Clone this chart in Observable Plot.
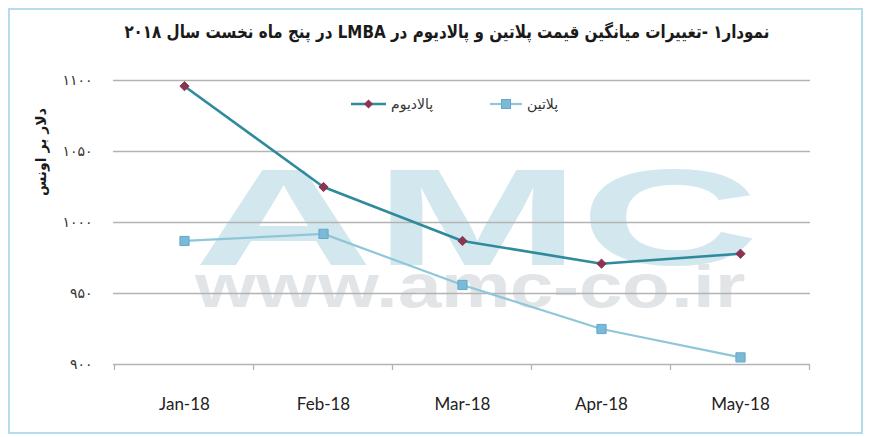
<!DOCTYPE html>
<html>
<head>
<meta charset="utf-8">
<script src="https://cdn.jsdelivr.net/npm/d3@7"></script>
<script src="https://cdn.jsdelivr.net/npm/@observablehq/plot@0.6"></script>
<style>
  @font-face { font-family: "WMBig"; src: local("Liberation Sans Bold"), local("LiberationSans-Bold"); font-weight: bold; ascent-override: 73%; descent-override: 0%; line-gap-override: 0%; }
  @font-face { font-family: "WMSmall"; src: local("Liberation Sans Bold"), local("LiberationSans-Bold"); font-weight: bold; ascent-override: 65%; descent-override: 0%; line-gap-override: 0%; }
  body { margin: 0; background: #fff; }
  #wrap { position: relative; width: 872px; height: 437px; overflow: hidden; background: #fff; }
  #frame { position: absolute; left: 8px; top: 8px; width: 855px; height: 426px; border: 2px solid #b6dcec; box-sizing: border-box; }
  #title { position: absolute; top: 20px; left: 0; width: 894px; text-align: center; line-height: 26px; }
  #title span { display: inline-block; font: bold 18px "DejaVu Sans"; direction: rtl; color: #1a1a1a; white-space: nowrap; transform-origin: 50% 50%; }
  #ylabel { position: absolute; left: 41px; top: 152px; transform: translate(-50%, -50%) rotate(-90deg); font: bold 14px "DejaVu Sans"; direction: rtl; color: #1a1a1a; white-space: nowrap; }
  #chart { position: absolute; left: 0; top: 50px; }
  .wm { position: absolute; font-weight: bold; white-space: nowrap; transform-origin: 0 0; line-height: normal; }
  #wm1 { font-family: "WMBig", "Liberation Sans"; font-size: 138px; color: #d2e7ee; top: 164px; }
  #wm2 { font-family: "WMSmall", "Liberation Sans"; font-size: 60px; color: #e2e5e7; top: 268px; }
  .leg { position: absolute; top: 96px; height: 16px; line-height: 16px; font: 14px "DejaVu Sans"; color: #333; direction: rtl; white-space: nowrap; }
  .sw { position: absolute; top: 98px; }
</style>
</head>
<body>
<div id="wrap">
  <div id="frame"></div>
  <div id="wm1" class="wm"></div>
  <div id="wm2" class="wm"></div>
  <div id="title"><span></span></div>
  <div id="ylabel"></div>
  <div id="chart"></div>
</div>
<script>
// ---- data ----
const months = ["Jan-18", "Feb-18", "Mar-18", "Apr-18", "May-18"];
const palladium = [1096, 1025, 987, 971, 978];
const platinum = [987, 992, 956, 925, 905];
const yTicks = [900, 950, 1000, 1050, 1100];
const yTickLabels = ["۹۰۰", "۹۵۰", "۱۰۰۰", "۱۰۵۰", "۱۱۰۰"];
const seriesNames = ["پالادیوم", "پلاتین"];
const titleText = "نمودار۱ -تغییرات میانگین قیمت پلاتین و پالادیوم در LMBA در پنج ماه نخست سال ۲۰۱۸";
const yLabelText = "دلار بر اونس";
const watermark = ["AMC", "www.amc-co.ir"];

const pallColor = "#2f8a9c", pallMarker = "#8c3452";
const platColor = "#8fc7d9", platMarker = "#7cb9d6";

// title, squeezed to the reference width
const tspan = document.querySelector("#title span");
tspan.textContent = titleText;
const tw = tspan.getBoundingClientRect().width;
tspan.style.transform = `scaleX(${Math.min(1, 645 / tw)})`;
document.getElementById("ylabel").textContent = yLabelText;

// watermark behind the chart, stretched like the original
function placeWatermark(id, txt, centerX, targetWidth) {
  const el = document.getElementById(id);
  el.textContent = txt;
  const w = el.getBoundingClientRect().width;
  const s = targetWidth / w;
  el.style.left = (centerX - targetWidth / 2) + "px";
  el.style.transform = `scaleX(${s})`;
}
placeWatermark("wm1", watermark[0], 477, 566);
placeWatermark("wm2", watermark[1], 470, 550);

const pallRows = months.map((m, i) => ({month: m, value: palladium[i]}));
const platRows = months.map((m, i) => ({month: m, value: platinum[i]}));

const plot = Plot.plot({
  width: 872,
  height: 380,
  marginTop: 30,
  marginBottom: 66,
  marginLeft: 113,
  marginRight: 62,
  style: {background: "transparent", overflow: "visible"},
  x: {type: "point", domain: months, padding: 0.5, label: null},
  y: {domain: [900, 1100], label: null},
  marks: [
    Plot.gridY(yTicks, {stroke: "#b3b3b3", strokeOpacity: 1, strokeWidth: 1.3}),
    Plot.axisY({ticks: yTicks, tickFormat: d => yTickLabels[yTicks.indexOf(d)], tickSize: 0, tickPadding: 21, fontSize: 14, fontFamily: "DejaVu Sans", label: null, fill: "#333"}),
    Plot.axisX({tickSize: 0, tickPadding: 33, fontSize: 17, fontFamily: "Lato", label: null, fill: "#222"}),
    Plot.line(platRows, {x: "month", y: "value", stroke: platColor, strokeWidth: 2.2}),
    Plot.line(pallRows, {x: "month", y: "value", stroke: pallColor, strokeWidth: 2.6}),
    Plot.dot(platRows, {x: "month", y: "value", symbol: "square", r: 5.2, fill: platMarker, stroke: "#62a9cc", strokeWidth: 1}),
    Plot.dot(pallRows, {x: "month", y: "value", symbol: "diamond2", r: 4.2, fill: pallMarker, stroke: "#7a2d46", strokeWidth: 0.8})
  ]
});
document.getElementById("chart").appendChild(plot);

const xs = plot.scale("x"), ys = plot.scale("y");

// category boundary ticks below the x axis, from the plot's own scales
const pos = months.map(m => xs.apply(m));
const step = pos[1] - pos[0];
const bounds = [pos[0] - step / 2, ...pos.map(p => p + step / 2)];
const y0 = ys.apply(yTicks[0]);
d3.select(plot).append("g").selectAll("line").data(bounds).join("line")
  .attr("x1", d => d).attr("x2", d => d)
  .attr("y1", y0).attr("y2", y0 + 6)
  .attr("stroke", "#b3b3b3").attr("stroke-width", 1.3);

// legend (inside plot area, as in the original)
const wrap = document.getElementById("wrap");
function swatch(left, width, color, marker, shape) {
  const s = d3.create("svg").attr("class", "sw").attr("width", width).attr("height", 12)
    .style("left", left + "px");
  s.append("line").attr("x1", 0).attr("x2", width).attr("y1", 6).attr("y2", 6)
    .attr("stroke", color).attr("stroke-width", shape === "diamond" ? 2.6 : 2.2);
  const c = width / 2;
  if (shape === "diamond") {
    s.append("path").attr("d", `M${c},1.5L${c + 4.5},6L${c},10.5L${c - 4.5},6Z`).attr("fill", marker);
  } else {
    s.append("rect").attr("x", c - 4.5).attr("y", 1.5).attr("width", 9).attr("height", 9).attr("fill", marker).attr("stroke", "#62a9cc");
  }
  wrap.appendChild(s.node());
}
function legText(left, txt) {
  const d = document.createElement("div");
  d.className = "leg";
  d.style.left = left + "px";
  d.textContent = txt;
  wrap.appendChild(d);
}
swatch(351, 35, pallColor, pallMarker, "diamond");
legText(391, seriesNames[0]);
swatch(490, 32, platColor, platMarker, "square");
legText(527, seriesNames[1]);
</script>
</body>
</html>
